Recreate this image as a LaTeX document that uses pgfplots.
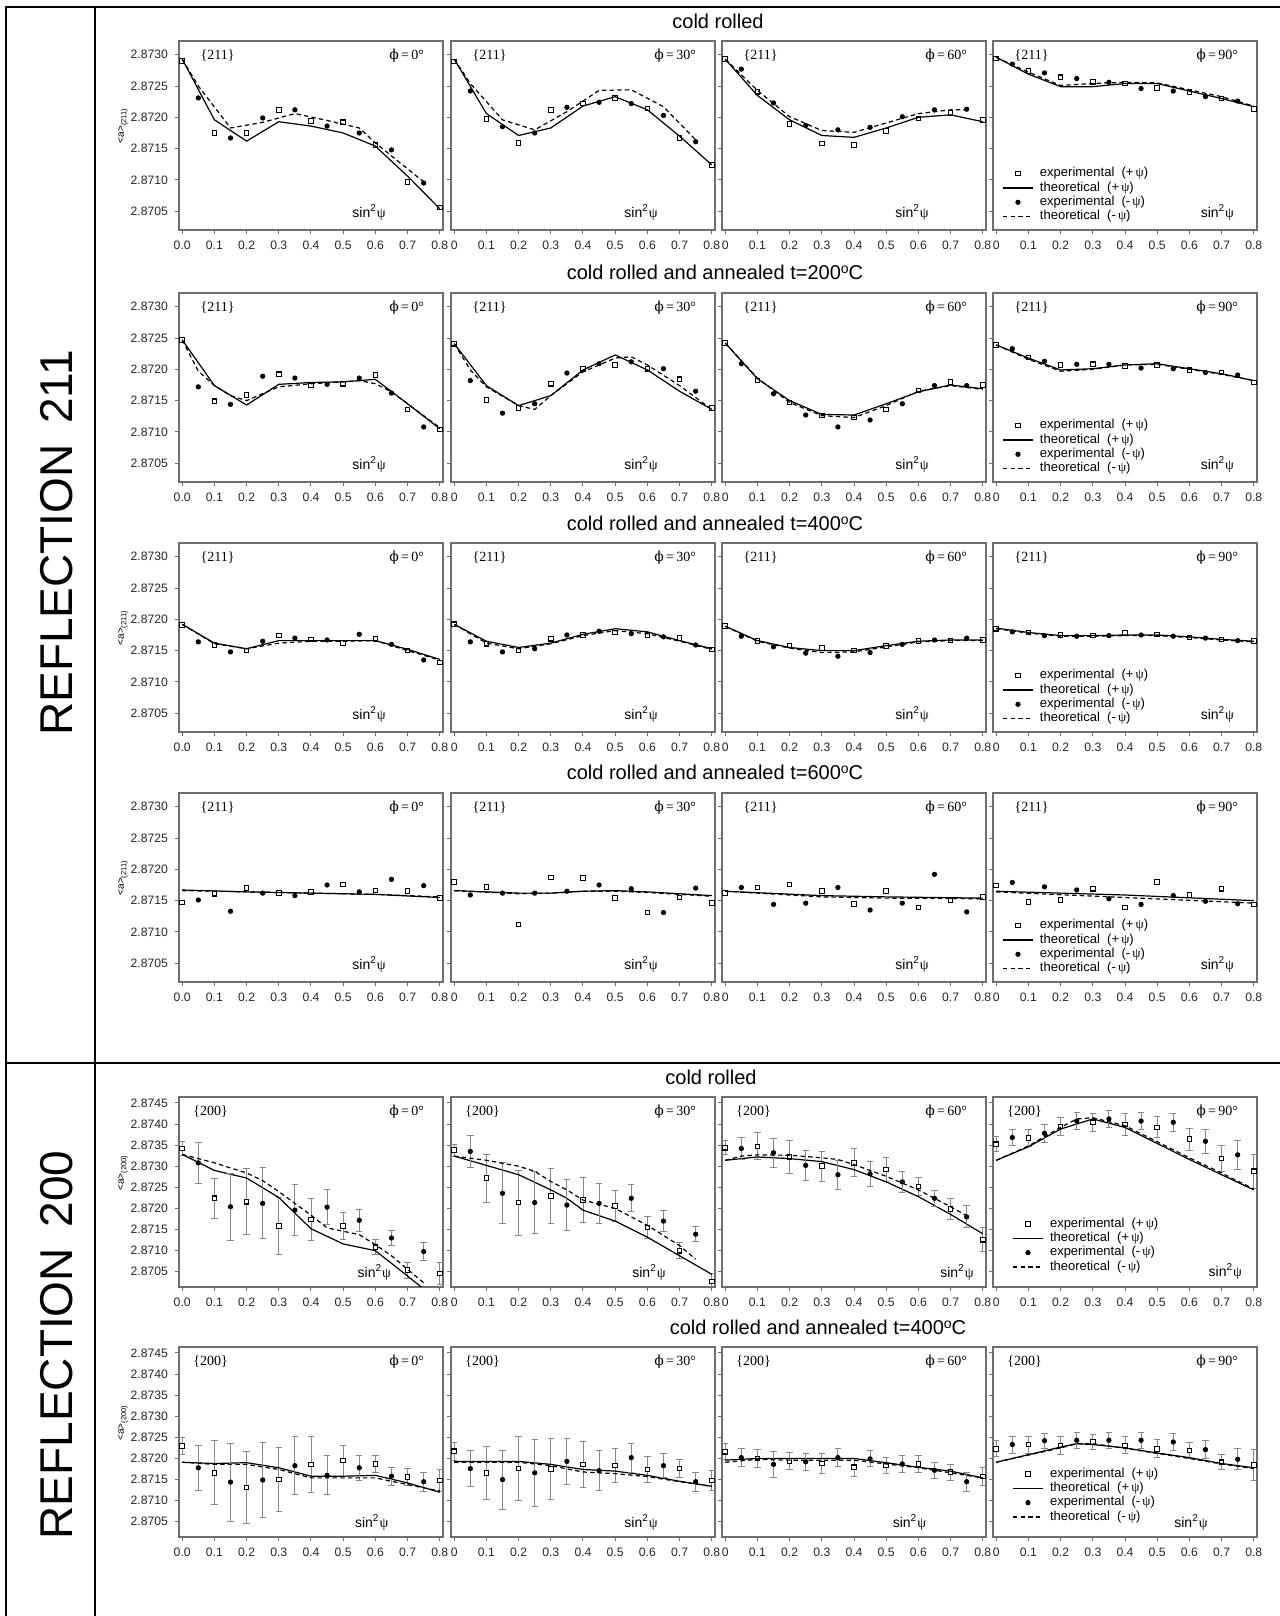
\documentclass[border=0pt]{standalone}
\usepackage{pgfplots}
\pgfplotsset{compat=1.18}
\usepackage{fontspec}
\setmainfont{Liberation Sans}
\newfontfamily\tms{Liberation Serif}
\newfontfamily\dvs{DejaVu Serif}
\definecolor{fgray}{RGB}{110,110,110}
\definecolor{egray}{RGB}{135,135,135}
\newcommand{\hkl}[2]{\node[anchor=west,font=\tms\fontsize{7}{7}\selectfont] at (rel axis cs:#2,0.925) {\{#1\}};}
\newcommand{\phit}[1]{\node[anchor=east,font=\tms\fontsize{7}{7}\selectfont] at (rel axis cs:0.955,0.925) {{\dvs ϕ}\,=\,#1°};}
\newcommand{\sinlab}[2]{\node[font=\fontsize{7}{7}\selectfont] at (rel axis cs:#1,#2) {sin\textsuperscript{2}{\tms ψ}};}
\newcommand{\ttl}{\fontsize{10}{10}\selectfont}
\pgfplotsset{
  pbase/.style={
    scale only axis, width=132pt, height=94.5pt, anchor=north west,
    xmin=-0.01, xmax=0.81,
    axis line style={draw=fgray, line width=0.75pt},
    tick align=outside, tick pos=left, major tick length=2pt,
    tick style={fgray, line width=0.5pt},
    xtick={0,0.1,0.2,0.3,0.4,0.5,0.6,0.7,0.8},
    ticklabel style={font=\fontsize{6.1}{6.1}\selectfont, text=black!85},
    /pgf/number format/assume math mode=true,
    scaled y ticks=false,
    yticklabel style={/pgf/number format/.cd, fixed, fixed zerofill, precision=4},
    clip mode=individual,
    legend cell align=left,
    legend image code/.code={\draw[mark repeat=2,mark phase=2,##1] plot coordinates {(0pt,0pt) (7.5pt,0pt) (15pt,0pt)};},
  },
  r211/.style={pbase, ymin=2.8702, ymax=2.87322, ytick={2.8705,2.871,2.8715,2.872,2.8725,2.873}},
  r200/.style={pbase, height=95pt, ymin=2.87014, ymax=2.87464, ytick={2.8705,2.871,2.8715,2.872,2.8725,2.873,2.8735,2.874,2.8745}},
  c1/.style={xticklabels={0.0,0.1,0.2,0.3,0.4,0.5,0.6,0.7,0.8}},
  cn/.style={xticklabels={0,0.1,0.2,0.3,0.4,0.5,0.6,0.7,0.8}, yticklabels={}},
  yl211/.style={ylabel={<a>\raisebox{-0.5ex}{\fontsize{3.8}{4}\selectfont(211)}}, ylabel style={at={(axis description cs:-0.212,0.55)}, anchor=center, font=\fontsize{5}{5}\selectfont}},
  yl200/.style={ylabel={<a>\raisebox{-0.5ex}{\fontsize{3.8}{4}\selectfont(200)}}, ylabel style={at={(axis description cs:-0.212,0.6)}, anchor=center, font=\fontsize{5}{5}\selectfont}},
  legbase/.style={legend entries={experimental\ \ (+\,{\tms ψ}),theoretical\ \ (+\,{\tms ψ}),experimental\ \ (-\,{\tms ψ}),theoretical\ \ (-\,{\tms ψ})},
    legend style={anchor=south west, draw=none, fill=none, inner sep=0pt, row sep=0pt,
      font=\fontsize{6.5}{6.5}\selectfont, nodes={inner sep=0.6pt, text height=4.6pt, text depth=1.4pt},
      /tikz/every odd column/.append style={column sep=2.6pt}}},
  leg211/.style={legbase, legend style={at={(0.034,0.03)}}},
  leg200/.style={legbase, legend style={at={(0.072,0.065)}}},
  sq/.style={only marks, mark=square*, mark size=1.15pt, mark options={fill=white, draw=black, line width=0.55pt, solid}},
  dt/.style={only marks, mark=*, mark size=1.1pt, mark options={fill=black, draw=black, solid}},
  th/.style={black, line width=0.6pt, mark=none},
  thd/.style={black, line width=0.6pt, mark=none, dash pattern=on 2.2pt off 1.6pt},
  eb/.style={error bars/.cd, y dir=both, y explicit, error bar style={color=egray, line width=0.45pt, solid}, error mark options={rotate=90, color=egray, mark size=1.6pt, line width=0.45pt, solid}},
}
\begin{document}
\begin{tikzpicture}
\useasboundingbox (0,0) rectangle (639.5pt,808pt);
\draw[line width=1.25pt] (3pt,0pt) -- (3pt,804.5pt) -- (640pt,804.5pt);
\draw[line width=1.25pt] (47.5pt,0pt) -- (47.5pt,804.5pt);
\draw[line width=1.25pt] (3pt,276.5pt) -- (640pt,276.5pt);
\node[rotate=90, font=\fontsize{23}{23}\selectfont] at (28.5pt,536.5pt) {REFLECTION\hspace{0.45em}211};
\node[rotate=90, font=\fontsize{23}{23}\selectfont] at (28.5pt,135.5pt) {REFLECTION\hspace{0.45em}200};
\node[font=\ttl] at (359pt,797.5pt) {cold rolled};
\node[font=\ttl] at (357.5pt,672pt) {cold rolled and annealed t=200{\fontsize{7}{7}\selectfont\raisebox{0.8ex}{o}}C};
\node[font=\ttl] at (357.5pt,546.5pt) {cold rolled and annealed t=400{\fontsize{7}{7}\selectfont\raisebox{0.8ex}{o}}C};
\node[font=\ttl] at (357.5pt,422pt) {cold rolled and annealed t=600{\fontsize{7}{7}\selectfont\raisebox{0.8ex}{o}}C};
\node[font=\ttl] at (355.5pt,269.5pt) {cold rolled};
\node[font=\ttl] at (409pt,144.5pt) {cold rolled and annealed t=400{\fontsize{7}{7}\selectfont\raisebox{0.8ex}{o}}C};

% ================= ROW 1 =================
\begin{axis}[r211, c1, yl211, at={(89.5pt,787.5pt)}]
\addplot[sq] coordinates {(0,2.87290)(0.1,2.87175)(0.2,2.87175)(0.3,2.87212)(0.4,2.87194)(0.5,2.87192)(0.6,2.87156)(0.7,2.87097)(0.8,2.87056)};
\addplot[th] coordinates {(0,2.87293)(0.1,2.87196)(0.2,2.87162)(0.3,2.87193)(0.4,2.87186)(0.5,2.87175)(0.6,2.87154)(0.7,2.87106)(0.8,2.87054)};
\addplot[dt] coordinates {(0.05,2.87231)(0.15,2.87167)(0.25,2.87199)(0.35,2.87212)(0.45,2.87186)(0.55,2.87175)(0.65,2.87148)(0.75,2.87095)};
\addplot[thd] coordinates {(0,2.87293)(0.05,2.87250)(0.15,2.87183)(0.25,2.87192)(0.35,2.87206)(0.45,2.87195)(0.55,2.87183)(0.6,2.87159)(0.75,2.87097)};
\hkl{211}{0.055}\phit{0}\sinlab{0.72}{0.095}
\end{axis}
\begin{axis}[r211, cn, at={(225.5pt,787.5pt)}]
\addplot[sq] coordinates {(0,2.87289)(0.1,2.87197)(0.2,2.87159)(0.3,2.87212)(0.4,2.87222)(0.5,2.87231)(0.6,2.87214)(0.7,2.87167)(0.8,2.87124)};
\addplot[th] coordinates {(0,2.87293)(0.1,2.87206)(0.2,2.87171)(0.3,2.87183)(0.4,2.87218)(0.5,2.87233)(0.6,2.87212)(0.7,2.87170)(0.8,2.87124)};
\addplot[dt] coordinates {(0.05,2.87242)(0.15,2.87185)(0.25,2.87175)(0.35,2.87216)(0.45,2.87224)(0.55,2.87222)(0.65,2.87203)(0.75,2.87161)};
\addplot[thd] coordinates {(0,2.87293)(0.05,2.87254)(0.15,2.87196)(0.25,2.87180)(0.35,2.87209)(0.45,2.87243)(0.55,2.87244)(0.65,2.87217)(0.75,2.87164)};
\hkl{211}{0.055}\phit{30}\sinlab{0.72}{0.095}
\end{axis}
\begin{axis}[r211, cn, at={(361pt,787.5pt)}]
\addplot[sq] coordinates {(0,2.87293)(0.1,2.87241)(0.2,2.87189)(0.3,2.87158)(0.4,2.87156)(0.5,2.87178)(0.6,2.87198)(0.7,2.87207)(0.8,2.87196)};
\addplot[th] coordinates {(0,2.87293)(0.1,2.87235)(0.2,2.87196)(0.3,2.87171)(0.4,2.87168)(0.5,2.87183)(0.6,2.87200)(0.7,2.87204)(0.8,2.87193)};
\addplot[dt] coordinates {(0.05,2.87277)(0.15,2.87223)(0.25,2.87187)(0.35,2.87180)(0.45,2.87184)(0.55,2.87201)(0.65,2.87212)(0.75,2.87213)};
\addplot[thd] coordinates {(0,2.87293)(0.1,2.87243)(0.2,2.87201)(0.3,2.87179)(0.4,2.87176)(0.5,2.87191)(0.6,2.87206)(0.7,2.87212)(0.75,2.87212)};
\hkl{211}{0.055}\phit{60}\sinlab{0.72}{0.095}
\end{axis}
\begin{axis}[r211, cn, leg211, at={(496.5pt,787.5pt)}]
\addplot[sq] coordinates {(0,2.87294)(0.1,2.87274)(0.2,2.87264)(0.3,2.87257)(0.4,2.87254)(0.5,2.87247)(0.6,2.87240)(0.7,2.87230)(0.8,2.87213)};
\addplot[th] coordinates {(0,2.87296)(0.1,2.87269)(0.2,2.87249)(0.3,2.87249)(0.4,2.87254)(0.5,2.87254)(0.6,2.87242)(0.7,2.87230)(0.8,2.87217)};
\addplot[dt] coordinates {(0.05,2.87285)(0.15,2.87271)(0.25,2.87262)(0.35,2.87256)(0.45,2.87246)(0.55,2.87242)(0.65,2.87233)(0.75,2.87226)};
\addplot[thd] coordinates {(0,2.87296)(0.1,2.87272)(0.2,2.87251)(0.3,2.87254)(0.4,2.87256)(0.5,2.87255)(0.6,2.87244)(0.7,2.87233)(0.8,2.87218)};
\hkl{211}{0.055}\phit{90}\sinlab{0.85}{0.095}
\end{axis}

% ================= ROW 2 =================
\begin{axis}[r211, c1, at={(89.5pt,661.5pt)}]
\addplot[sq] coordinates {(0,2.87247)(0.1,2.87149)(0.2,2.87159)(0.3,2.87192)(0.4,2.87174)(0.5,2.87177)(0.6,2.87191)(0.7,2.87136)(0.8,2.87104)};
\addplot[th] coordinates {(0,2.87247)(0.1,2.87174)(0.2,2.87143)(0.3,2.87176)(0.4,2.87179)(0.5,2.87180)(0.6,2.87184)(0.7,2.87145)(0.8,2.87105)};
\addplot[dt] coordinates {(0.05,2.87172)(0.15,2.87144)(0.25,2.87189)(0.35,2.87186)(0.45,2.87176)(0.55,2.87186)(0.65,2.87162)(0.75,2.87108)};
\addplot[thd] coordinates {(0,2.87247)(0.05,2.87197)(0.1,2.87174)(0.15,2.87158)(0.2,2.87150)(0.3,2.87172)(0.4,2.87177)(0.5,2.87180)(0.55,2.87182)(0.6,2.87177)(0.65,2.87164)(0.7,2.87145)(0.8,2.87107)};
\hkl{211}{0.055}\phit{0}\sinlab{0.72}{0.095}
\end{axis}
\begin{axis}[r211, cn, at={(225.5pt,661.5pt)}]
\addplot[sq] coordinates {(0,2.87241)(0.1,2.87151)(0.2,2.87138)(0.3,2.87177)(0.4,2.87201)(0.5,2.87207)(0.6,2.87201)(0.7,2.87184)(0.8,2.87138)};
\addplot[th] coordinates {(0,2.87241)(0.1,2.87174)(0.2,2.87142)(0.3,2.87158)(0.4,2.87199)(0.5,2.87223)(0.6,2.87199)(0.7,2.87165)(0.8,2.87136)};
\addplot[dt] coordinates {(0.05,2.87182)(0.15,2.87130)(0.25,2.87145)(0.35,2.87194)(0.45,2.87209)(0.55,2.87212)(0.65,2.87201)(0.75,2.87165)};
\addplot[thd] coordinates {(0,2.87241)(0.05,2.87199)(0.1,2.87172)(0.2,2.87142)(0.25,2.87136)(0.3,2.87158)(0.4,2.87196)(0.5,2.87218)(0.55,2.87220)(0.6,2.87207)(0.7,2.87174)(0.8,2.87136)};
\hkl{211}{0.055}\phit{30}\sinlab{0.72}{0.095}
\end{axis}
\begin{axis}[r211, cn, at={(361pt,661.5pt)}]
\addplot[sq] coordinates {(0,2.87242)(0.1,2.87182)(0.2,2.87147)(0.3,2.87126)(0.4,2.87123)(0.5,2.87136)(0.6,2.87166)(0.7,2.87180)(0.8,2.87175)};
\addplot[th] coordinates {(0,2.87242)(0.1,2.87185)(0.2,2.87150)(0.3,2.87128)(0.4,2.87127)(0.5,2.87145)(0.6,2.87164)(0.7,2.87175)(0.8,2.87169)};
\addplot[dt] coordinates {(0.05,2.87209)(0.15,2.87161)(0.25,2.87127)(0.35,2.87108)(0.45,2.87119)(0.55,2.87145)(0.65,2.87174)(0.75,2.87174)};
\addplot[thd] coordinates {(0,2.87242)(0.1,2.87186)(0.2,2.87147)(0.3,2.87126)(0.4,2.87123)(0.5,2.87142)(0.6,2.87165)(0.7,2.87174)(0.8,2.87168)};
\hkl{211}{0.055}\phit{60}\sinlab{0.72}{0.095}
\end{axis}
\begin{axis}[r211, cn, leg211, at={(496.5pt,661.5pt)}]
\addplot[sq] coordinates {(0,2.87239)(0.1,2.87219)(0.2,2.87207)(0.3,2.87208)(0.4,2.87205)(0.5,2.87207)(0.6,2.87199)(0.7,2.87195)(0.8,2.87179)};
\addplot[th] coordinates {(0,2.87239)(0.1,2.87218)(0.2,2.87199)(0.3,2.87201)(0.4,2.87207)(0.5,2.87209)(0.6,2.87201)(0.7,2.87193)(0.8,2.87182)};
\addplot[dt] coordinates {(0.05,2.87233)(0.15,2.87213)(0.25,2.87208)(0.35,2.87208)(0.45,2.87202)(0.55,2.87201)(0.65,2.87195)(0.75,2.87191)};
\addplot[thd] coordinates {(0,2.87239)(0.1,2.87216)(0.2,2.87197)(0.3,2.87200)(0.4,2.87207)(0.5,2.87208)(0.6,2.87200)(0.7,2.87192)(0.8,2.87182)};
\hkl{211}{0.055}\phit{90}\sinlab{0.85}{0.095}
\end{axis}

% ================= ROW 3 =================
\begin{axis}[r211, c1, yl211, at={(89.5pt,536.5pt)}]
\addplot[sq] coordinates {(0,2.87191)(0.1,2.87159)(0.2,2.87150)(0.3,2.87174)(0.4,2.87168)(0.5,2.87162)(0.6,2.87169)(0.7,2.87150)(0.8,2.87131)};
\addplot[th] coordinates {(0,2.87192)(0.1,2.87162)(0.2,2.87153)(0.3,2.87166)(0.4,2.87166)(0.5,2.87166)(0.6,2.87166)(0.7,2.87152)(0.8,2.87136)};
\addplot[dt] coordinates {(0.05,2.87164)(0.15,2.87148)(0.25,2.87165)(0.35,2.87170)(0.45,2.87167)(0.55,2.87176)(0.65,2.87160)(0.75,2.87135)};
\addplot[thd] coordinates {(0,2.87192)(0.1,2.87161)(0.2,2.87153)(0.3,2.87162)(0.4,2.87165)(0.5,2.87165)(0.6,2.87166)(0.7,2.87150)(0.8,2.87135)};
\hkl{211}{0.055}\phit{0}\sinlab{0.72}{0.095}
\end{axis}
\begin{axis}[r211, cn, at={(225.5pt,536.5pt)}]
\addplot[sq] coordinates {(0,2.87192)(0.1,2.87161)(0.2,2.87150)(0.3,2.87169)(0.4,2.87175)(0.5,2.87179)(0.6,2.87175)(0.7,2.87170)(0.8,2.87152)};
\addplot[th] coordinates {(0,2.87192)(0.1,2.87165)(0.2,2.87155)(0.3,2.87162)(0.4,2.87176)(0.5,2.87185)(0.6,2.87180)(0.7,2.87166)(0.8,2.87153)};
\addplot[dt] coordinates {(0.05,2.87164)(0.15,2.87148)(0.25,2.87153)(0.35,2.87175)(0.45,2.87181)(0.55,2.87177)(0.65,2.87172)(0.75,2.87159)};
\addplot[thd] coordinates {(0,2.87192)(0.1,2.87162)(0.2,2.87153)(0.3,2.87161)(0.4,2.87174)(0.5,2.87182)(0.6,2.87177)(0.7,2.87165)(0.8,2.87152)};
\hkl{211}{0.055}\phit{30}\sinlab{0.72}{0.095}
\end{axis}
\begin{axis}[r211, cn, at={(361pt,536.5pt)}]
\addplot[sq] coordinates {(0,2.87189)(0.1,2.87165)(0.2,2.87158)(0.3,2.87154)(0.4,2.87150)(0.5,2.87157)(0.6,2.87165)(0.7,2.87166)(0.8,2.87167)};
\addplot[th] coordinates {(0,2.87189)(0.1,2.87166)(0.2,2.87155)(0.3,2.87150)(0.4,2.87150)(0.5,2.87158)(0.6,2.87165)(0.7,2.87167)(0.8,2.87167)};
\addplot[dt] coordinates {(0.05,2.87173)(0.15,2.87156)(0.25,2.87146)(0.35,2.87141)(0.45,2.87147)(0.55,2.87160)(0.65,2.87167)(0.75,2.87170)};
\addplot[thd] coordinates {(0,2.87189)(0.1,2.87165)(0.2,2.87154)(0.3,2.87147)(0.4,2.87148)(0.5,2.87156)(0.6,2.87164)(0.7,2.87166)(0.8,2.87166)};
\hkl{211}{0.055}\phit{60}\sinlab{0.72}{0.095}
\end{axis}
\begin{axis}[r211, cn, leg211, at={(496.5pt,536.5pt)}]
\addplot[sq] coordinates {(0,2.87185)(0.1,2.87179)(0.2,2.87175)(0.3,2.87174)(0.4,2.87178)(0.5,2.87176)(0.6,2.87171)(0.7,2.87168)(0.8,2.87165)};
\addplot[th] coordinates {(0,2.87186)(0.1,2.87179)(0.2,2.87174)(0.3,2.87174)(0.4,2.87175)(0.5,2.87175)(0.6,2.87172)(0.7,2.87168)(0.8,2.87165)};
\addplot[dt] coordinates {(0.05,2.87180)(0.15,2.87174)(0.25,2.87173)(0.35,2.87174)(0.45,2.87175)(0.55,2.87173)(0.65,2.87170)(0.75,2.87166)};
\addplot[thd] coordinates {(0,2.87185)(0.1,2.87178)(0.2,2.87173)(0.3,2.87173)(0.4,2.87174)(0.5,2.87174)(0.6,2.87171)(0.7,2.87167)(0.8,2.87164)};
\hkl{211}{0.055}\phit{90}\sinlab{0.85}{0.095}
\end{axis}

% ================= ROW 4 =================
\begin{axis}[r211, c1, yl211, at={(89.5pt,411.5pt)}]
\addplot[sq] coordinates {(0,2.87147)(0.1,2.87161)(0.2,2.87170)(0.3,2.87162)(0.4,2.87164)(0.5,2.87176)(0.6,2.87166)(0.7,2.87165)(0.8,2.87154)};
\addplot[th] coordinates {(0,2.87167)(0.2,2.87164)(0.4,2.87162)(0.6,2.87160)(0.8,2.87155)};
\addplot[dt] coordinates {(0.05,2.87151)(0.15,2.87133)(0.25,2.87162)(0.35,2.87158)(0.45,2.87175)(0.55,2.87164)(0.65,2.87184)(0.75,2.87174)};
\addplot[thd] coordinates {(0,2.87166)(0.2,2.87164)(0.4,2.87162)(0.6,2.87160)(0.8,2.87156)};
\hkl{211}{0.055}\phit{0}\sinlab{0.72}{0.095}
\end{axis}
\begin{axis}[r211, cn, at={(225.5pt,411.5pt)}]
\addplot[sq] coordinates {(0,2.87180)(0.1,2.87172)(0.2,2.87112)(0.3,2.87187)(0.4,2.87186)(0.5,2.87154)(0.6,2.87131)(0.7,2.87155)(0.8,2.87146)};
\addplot[th] coordinates {(0,2.87166)(0.2,2.87162)(0.3,2.87162)(0.4,2.87165)(0.5,2.87166)(0.6,2.87164)(0.8,2.87158)};
\addplot[dt] coordinates {(0.05,2.87159)(0.15,2.87162)(0.25,2.87162)(0.35,2.87165)(0.45,2.87175)(0.55,2.87169)(0.65,2.87131)(0.75,2.87170)};
\addplot[thd] coordinates {(0,2.87166)(0.2,2.87161)(0.3,2.87162)(0.4,2.87165)(0.5,2.87165)(0.6,2.87163)(0.8,2.87157)};
\hkl{211}{0.055}\phit{30}\sinlab{0.72}{0.095}
\end{axis}
\begin{axis}[r211, cn, at={(361pt,411.5pt)}]
\addplot[sq] coordinates {(0,2.87162)(0.1,2.87171)(0.2,2.87176)(0.3,2.87165)(0.4,2.87145)(0.5,2.87165)(0.6,2.87139)(0.7,2.87150)(0.8,2.87156)};
\addplot[th] coordinates {(0,2.87165)(0.3,2.87158)(0.5,2.87156)(0.8,2.87154)};
\addplot[dt] coordinates {(0.05,2.87171)(0.15,2.87144)(0.25,2.87146)(0.35,2.87171)(0.45,2.87135)(0.55,2.87146)(0.65,2.87192)(0.75,2.87132)};
\addplot[thd] coordinates {(0,2.87165)(0.3,2.87156)(0.5,2.87154)(0.8,2.87153)};
\hkl{211}{0.055}\phit{60}\sinlab{0.72}{0.095}
\end{axis}
\begin{axis}[r211, cn, leg211, at={(496.5pt,411.5pt)}]
\addplot[sq] coordinates {(0,2.87174)(0.1,2.87148)(0.2,2.87151)(0.3,2.87169)(0.4,2.87139)(0.5,2.87180)(0.6,2.87159)(0.7,2.87169)(0.8,2.87144)};
\addplot[th] coordinates {(0,2.87165)(0.4,2.87159)(0.8,2.87150)};
\addplot[dt] coordinates {(0.05,2.87179)(0.15,2.87172)(0.25,2.87167)(0.35,2.87153)(0.45,2.87144)(0.55,2.87158)(0.65,2.87149)(0.75,2.87145)};
\addplot[thd] coordinates {(0,2.87164)(0.4,2.87155)(0.8,2.87146)};
\hkl{211}{0.055}\phit{90}\sinlab{0.85}{0.095}
\end{axis}

% ================= ROW 5 (200, cold rolled) =================
\begin{axis}[r200, c1, yl200, at={(89.5pt,259.5pt)}]
\addplot[sq, eb] coordinates {(0,2.87342) +- (0,0.00016) (0.1,2.87224) +- (0,0.00048) (0.2,2.87216) +- (0,0.00078) (0.3,2.87158) +- (0,0.00067) (0.4,2.87174) +- (0,0.00050) (0.5,2.87158) +- (0,0.00032) (0.6,2.87108) +- (0,0.00018) (0.7,2.87054) +- (0,0.00019) (0.8,2.87046) +- (0,0.00027)};
\addplot[th] coordinates {(0,2.87328)(0.1,2.87290)(0.2,2.87272)(0.3,2.87226)(0.4,2.87152)(0.5,2.87116)(0.6,2.87100)(0.7,2.87040)(0.8,2.86978)};
\addplot[dt, eb] coordinates {(0.05,2.87308) +- (0,0.00048) (0.15,2.87204) +- (0,0.00080) (0.25,2.87212) +- (0,0.00084) (0.35,2.87196) +- (0,0.00061) (0.45,2.87203) +- (0,0.00042) (0.55,2.87172) +- (0,0.00026) (0.65,2.87130) +- (0,0.00018) (0.75,2.87098) +- (0,0.00022)};
\addplot[thd] coordinates {(0,2.87328)(0.1,2.87308)(0.2,2.87284)(0.25,2.87266)(0.3,2.87240)(0.35,2.87212)(0.4,2.87184)(0.45,2.87154)(0.5,2.87146)(0.55,2.87138)(0.6,2.87114)(0.65,2.87088)(0.7,2.87056)(0.75,2.87024)};
\hkl{200}{0.028}\phit{0}\sinlab{0.74}{0.075}
\end{axis}
\begin{axis}[r200, cn, at={(225.5pt,259.5pt)}]
\addplot[sq, eb] coordinates {(0,2.87338) +- (0,0.00014) (0.1,2.87272) +- (0,0.00057) (0.2,2.87214) +- (0,0.00077) (0.3,2.87229) +- (0,0.00065) (0.4,2.87220) +- (0,0.00053) (0.5,2.87206) +- (0,0.00036) (0.6,2.87155) +- (0,0.00026) (0.7,2.87100) +- (0,0.00019) (0.8,2.87027) +- (0,0.00019)};
\addplot[th] coordinates {(0,2.87324)(0.1,2.87302)(0.2,2.87280)(0.3,2.87244)(0.35,2.87224)(0.4,2.87196)(0.5,2.87170)(0.6,2.87132)(0.7,2.87088)(0.8,2.87044)};
\addplot[dt, eb] coordinates {(0.05,2.87335) +- (0,0.00038) (0.15,2.87236) +- (0,0.00072) (0.25,2.87214) +- (0,0.00074) (0.35,2.87208) +- (0,0.00060) (0.45,2.87212) +- (0,0.00048) (0.55,2.87224) +- (0,0.00032) (0.65,2.87170) +- (0,0.00025) (0.75,2.87139) +- (0,0.00018)};
\addplot[thd] coordinates {(0,2.87324)(0.1,2.87314)(0.2,2.87300)(0.25,2.87288)(0.3,2.87264)(0.35,2.87244)(0.4,2.87220)(0.5,2.87200)(0.6,2.87160)(0.7,2.87112)(0.75,2.87080)};
\hkl{200}{0.028}\phit{30}\sinlab{0.75}{0.075}
\end{axis}
\begin{axis}[r200, cn, at={(361pt,259.5pt)}]
\addplot[sq, eb] coordinates {(0,2.87344) +- (0,0.00017) (0.1,2.87347) +- (0,0.00032) (0.2,2.87322) +- (0,0.00038) (0.3,2.87300) +- (0,0.00035) (0.4,2.87308) +- (0,0.00033) (0.5,2.87292) +- (0,0.00029) (0.6,2.87252) +- (0,0.00022) (0.7,2.87199) +- (0,0.00024) (0.8,2.87126) +- (0,0.00028)};
\addplot[th] coordinates {(0,2.87314)(0.1,2.87322)(0.2,2.87318)(0.3,2.87311)(0.4,2.87292)(0.5,2.87263)(0.6,2.87228)(0.7,2.87186)(0.8,2.87140)};
\addplot[dt, eb] coordinates {(0.05,2.87342) +- (0,0.00026) (0.15,2.87332) +- (0,0.00034) (0.25,2.87302) +- (0,0.00035) (0.35,2.87280) +- (0,0.00034) (0.45,2.87282) +- (0,0.00029) (0.55,2.87263) +- (0,0.00025) (0.65,2.87224) +- (0,0.00019) (0.75,2.87180) +- (0,0.00026)};
\addplot[thd] coordinates {(0,2.87314)(0.05,2.87324)(0.1,2.87327)(0.2,2.87326)(0.3,2.87320)(0.35,2.87316)(0.4,2.87304)(0.5,2.87276)(0.6,2.87244)(0.7,2.87204)(0.75,2.87183)};
\hkl{200}{0.028}\phit{60}\sinlab{0.89}{0.075}
\end{axis}
\begin{axis}[r200, cn, leg200, at={(496.5pt,259.5pt)}]
\addplot[sq, eb] coordinates {(0,2.87352) +- (0,0.00018) (0.1,2.87367) +- (0,0.00021) (0.2,2.87394) +- (0,0.00022) (0.3,2.87404) +- (0,0.00021) (0.4,2.87399) +- (0,0.00026) (0.5,2.87392) +- (0,0.00025) (0.6,2.87364) +- (0,0.00026) (0.7,2.87318) +- (0,0.00031) (0.8,2.87288) +- (0,0.00040)};
\addplot[th] coordinates {(0,2.87314)(0.1,2.87346)(0.2,2.87388)(0.3,2.87412)(0.4,2.87392)(0.5,2.87354)(0.6,2.87316)(0.7,2.87280)(0.8,2.87244)};
\addplot[dt, eb] coordinates {(0.05,2.87368) +- (0,0.00018) (0.15,2.87378) +- (0,0.00022) (0.25,2.87407) +- (0,0.00020) (0.35,2.87412) +- (0,0.00021) (0.45,2.87407) +- (0,0.00020) (0.55,2.87404) +- (0,0.00022) (0.65,2.87359) +- (0,0.00028) (0.75,2.87327) +- (0,0.00034)};
\addplot[thd] coordinates {(0,2.87314)(0.1,2.87348)(0.2,2.87392)(0.25,2.87412)(0.3,2.87415)(0.4,2.87396)(0.5,2.87358)(0.6,2.87320)(0.7,2.87284)(0.8,2.87246)};
\hkl{200}{0.028}\phit{90}\sinlab{0.88}{0.08}
\end{axis}

% ================= ROW 6 (200, annealed 400) =================
\begin{axis}[r200, c1, yl200, at={(89.5pt,134.5pt)}]
\addplot[sq, eb] coordinates {(0,2.87229) +- (0,0.00020) (0.1,2.87166) +- (0,0.00076) (0.2,2.87131) +- (0,0.00086) (0.3,2.87150) +- (0,0.00075) (0.4,2.87186) +- (0,0.00066) (0.5,2.87195) +- (0,0.00037) (0.6,2.87187) +- (0,0.00021) (0.7,2.87156) +- (0,0.00021) (0.8,2.87148) +- (0,0.00025)};
\addplot[th] coordinates {(0,2.87191)(0.1,2.87188)(0.2,2.87190)(0.3,2.87178)(0.4,2.87158)(0.5,2.87158)(0.6,2.87160)(0.7,2.87142)(0.8,2.87120)};
\addplot[dt, eb] coordinates {(0.05,2.87178) +- (0,0.00054) (0.15,2.87144) +- (0,0.00092) (0.25,2.87149) +- (0,0.00088) (0.35,2.87183) +- (0,0.00069) (0.45,2.87160) +- (0,0.00046) (0.55,2.87178) +- (0,0.00029) (0.65,2.87158) +- (0,0.00021) (0.75,2.87145) +- (0,0.00022)};
\addplot[thd] coordinates {(0,2.87191)(0.1,2.87186)(0.2,2.87186)(0.3,2.87174)(0.4,2.87154)(0.5,2.87154)(0.6,2.87154)(0.7,2.87138)(0.8,2.87123)};
\hkl{200}{0.028}\phit{0}\sinlab{0.73}{0.075}
\end{axis}
\begin{axis}[r200, cn, at={(225.5pt,134.5pt)}]
\addplot[sq, eb] coordinates {(0,2.87217) +- (0,0.00021) (0.1,2.87166) +- (0,0.00062) (0.2,2.87176) +- (0,0.00076) (0.3,2.87175) +- (0,0.00073) (0.4,2.87186) +- (0,0.00054) (0.5,2.87183) +- (0,0.00040) (0.6,2.87174) +- (0,0.00030) (0.7,2.87176) +- (0,0.00022) (0.8,2.87148) +- (0,0.00023)};
\addplot[th] coordinates {(0,2.87193)(0.1,2.87193)(0.2,2.87193)(0.3,2.87186)(0.4,2.87174)(0.5,2.87170)(0.6,2.87160)(0.7,2.87146)(0.8,2.87134)};
\addplot[dt, eb] coordinates {(0.05,2.87176) +- (0,0.00043) (0.15,2.87150) +- (0,0.00070) (0.25,2.87166) +- (0,0.00079) (0.35,2.87193) +- (0,0.00054) (0.45,2.87171) +- (0,0.00047) (0.55,2.87202) +- (0,0.00034) (0.65,2.87183) +- (0,0.00028) (0.75,2.87145) +- (0,0.00022)};
\addplot[thd] coordinates {(0,2.87191)(0.1,2.87191)(0.2,2.87191)(0.3,2.87183)(0.4,2.87168)(0.5,2.87164)(0.6,2.87157)(0.7,2.87145)(0.8,2.87134)};
\hkl{200}{0.028}\phit{30}\sinlab{0.72}{0.075}
\end{axis}
\begin{axis}[r200, cn, at={(361pt,134.5pt)}]
\addplot[sq, eb] coordinates {(0,2.87216) +- (0,0.00019) (0.1,2.87200) +- (0,0.00022) (0.2,2.87194) +- (0,0.00021) (0.3,2.87188) +- (0,0.00023) (0.4,2.87179) +- (0,0.00022) (0.5,2.87183) +- (0,0.00019) (0.6,2.87187) +- (0,0.00020) (0.7,2.87168) +- (0,0.00019) (0.8,2.87157) +- (0,0.00021)};
\addplot[th] coordinates {(0,2.87196)(0.1,2.87200)(0.2,2.87200)(0.3,2.87200)(0.4,2.87200)(0.5,2.87190)(0.6,2.87179)(0.7,2.87170)(0.8,2.87154)};
\addplot[dt, eb] coordinates {(0.05,2.87202) +- (0,0.00021) (0.15,2.87186) +- (0,0.00031) (0.25,2.87192) +- (0,0.00021) (0.35,2.87202) +- (0,0.00022) (0.45,2.87199) +- (0,0.00019) (0.55,2.87187) +- (0,0.00020) (0.65,2.87172) +- (0,0.00019) (0.75,2.87145) +- (0,0.00022)};
\addplot[thd] coordinates {(0,2.87191)(0.1,2.87198)(0.2,2.87196)(0.3,2.87196)(0.4,2.87196)(0.5,2.87187)(0.6,2.87178)(0.7,2.87166)(0.8,2.87154)};
\hkl{200}{0.028}\phit{60}\sinlab{0.71}{0.075}
\end{axis}
\begin{axis}[r200, cn, leg200, at={(496.5pt,134.5pt)}]
\addplot[sq, eb] coordinates {(0,2.87223) +- (0,0.00019) (0.1,2.87233) +- (0,0.00020) (0.2,2.87231) +- (0,0.00021) (0.3,2.87239) +- (0,0.00018) (0.4,2.87231) +- (0,0.00020) (0.5,2.87223) +- (0,0.00021) (0.6,2.87219) +- (0,0.00020) (0.7,2.87191) +- (0,0.00018) (0.8,2.87184) +- (0,0.00037)};
\addplot[th] coordinates {(0,2.87191)(0.1,2.87209)(0.2,2.87227)(0.25,2.87235)(0.3,2.87233)(0.4,2.87225)(0.5,2.87213)(0.6,2.87202)(0.7,2.87188)(0.8,2.87178)};
\addplot[dt, eb] coordinates {(0.05,2.87233) +- (0,0.00020) (0.15,2.87242) +- (0,0.00018) (0.25,2.87243) +- (0,0.00019) (0.35,2.87243) +- (0,0.00019) (0.45,2.87243) +- (0,0.00019) (0.55,2.87239) +- (0,0.00020) (0.65,2.87221) +- (0,0.00022) (0.75,2.87198) +- (0,0.00025)};
\addplot[thd] coordinates {(0,2.87191)(0.1,2.87208)(0.2,2.87225)(0.25,2.87235)(0.3,2.87235)(0.4,2.87224)(0.5,2.87212)(0.6,2.87200)(0.7,2.87187)(0.8,2.87176)};
\hkl{200}{0.028}\phit{90}\sinlab{0.75}{0.075}
\end{axis}
\end{tikzpicture}
\end{document}
